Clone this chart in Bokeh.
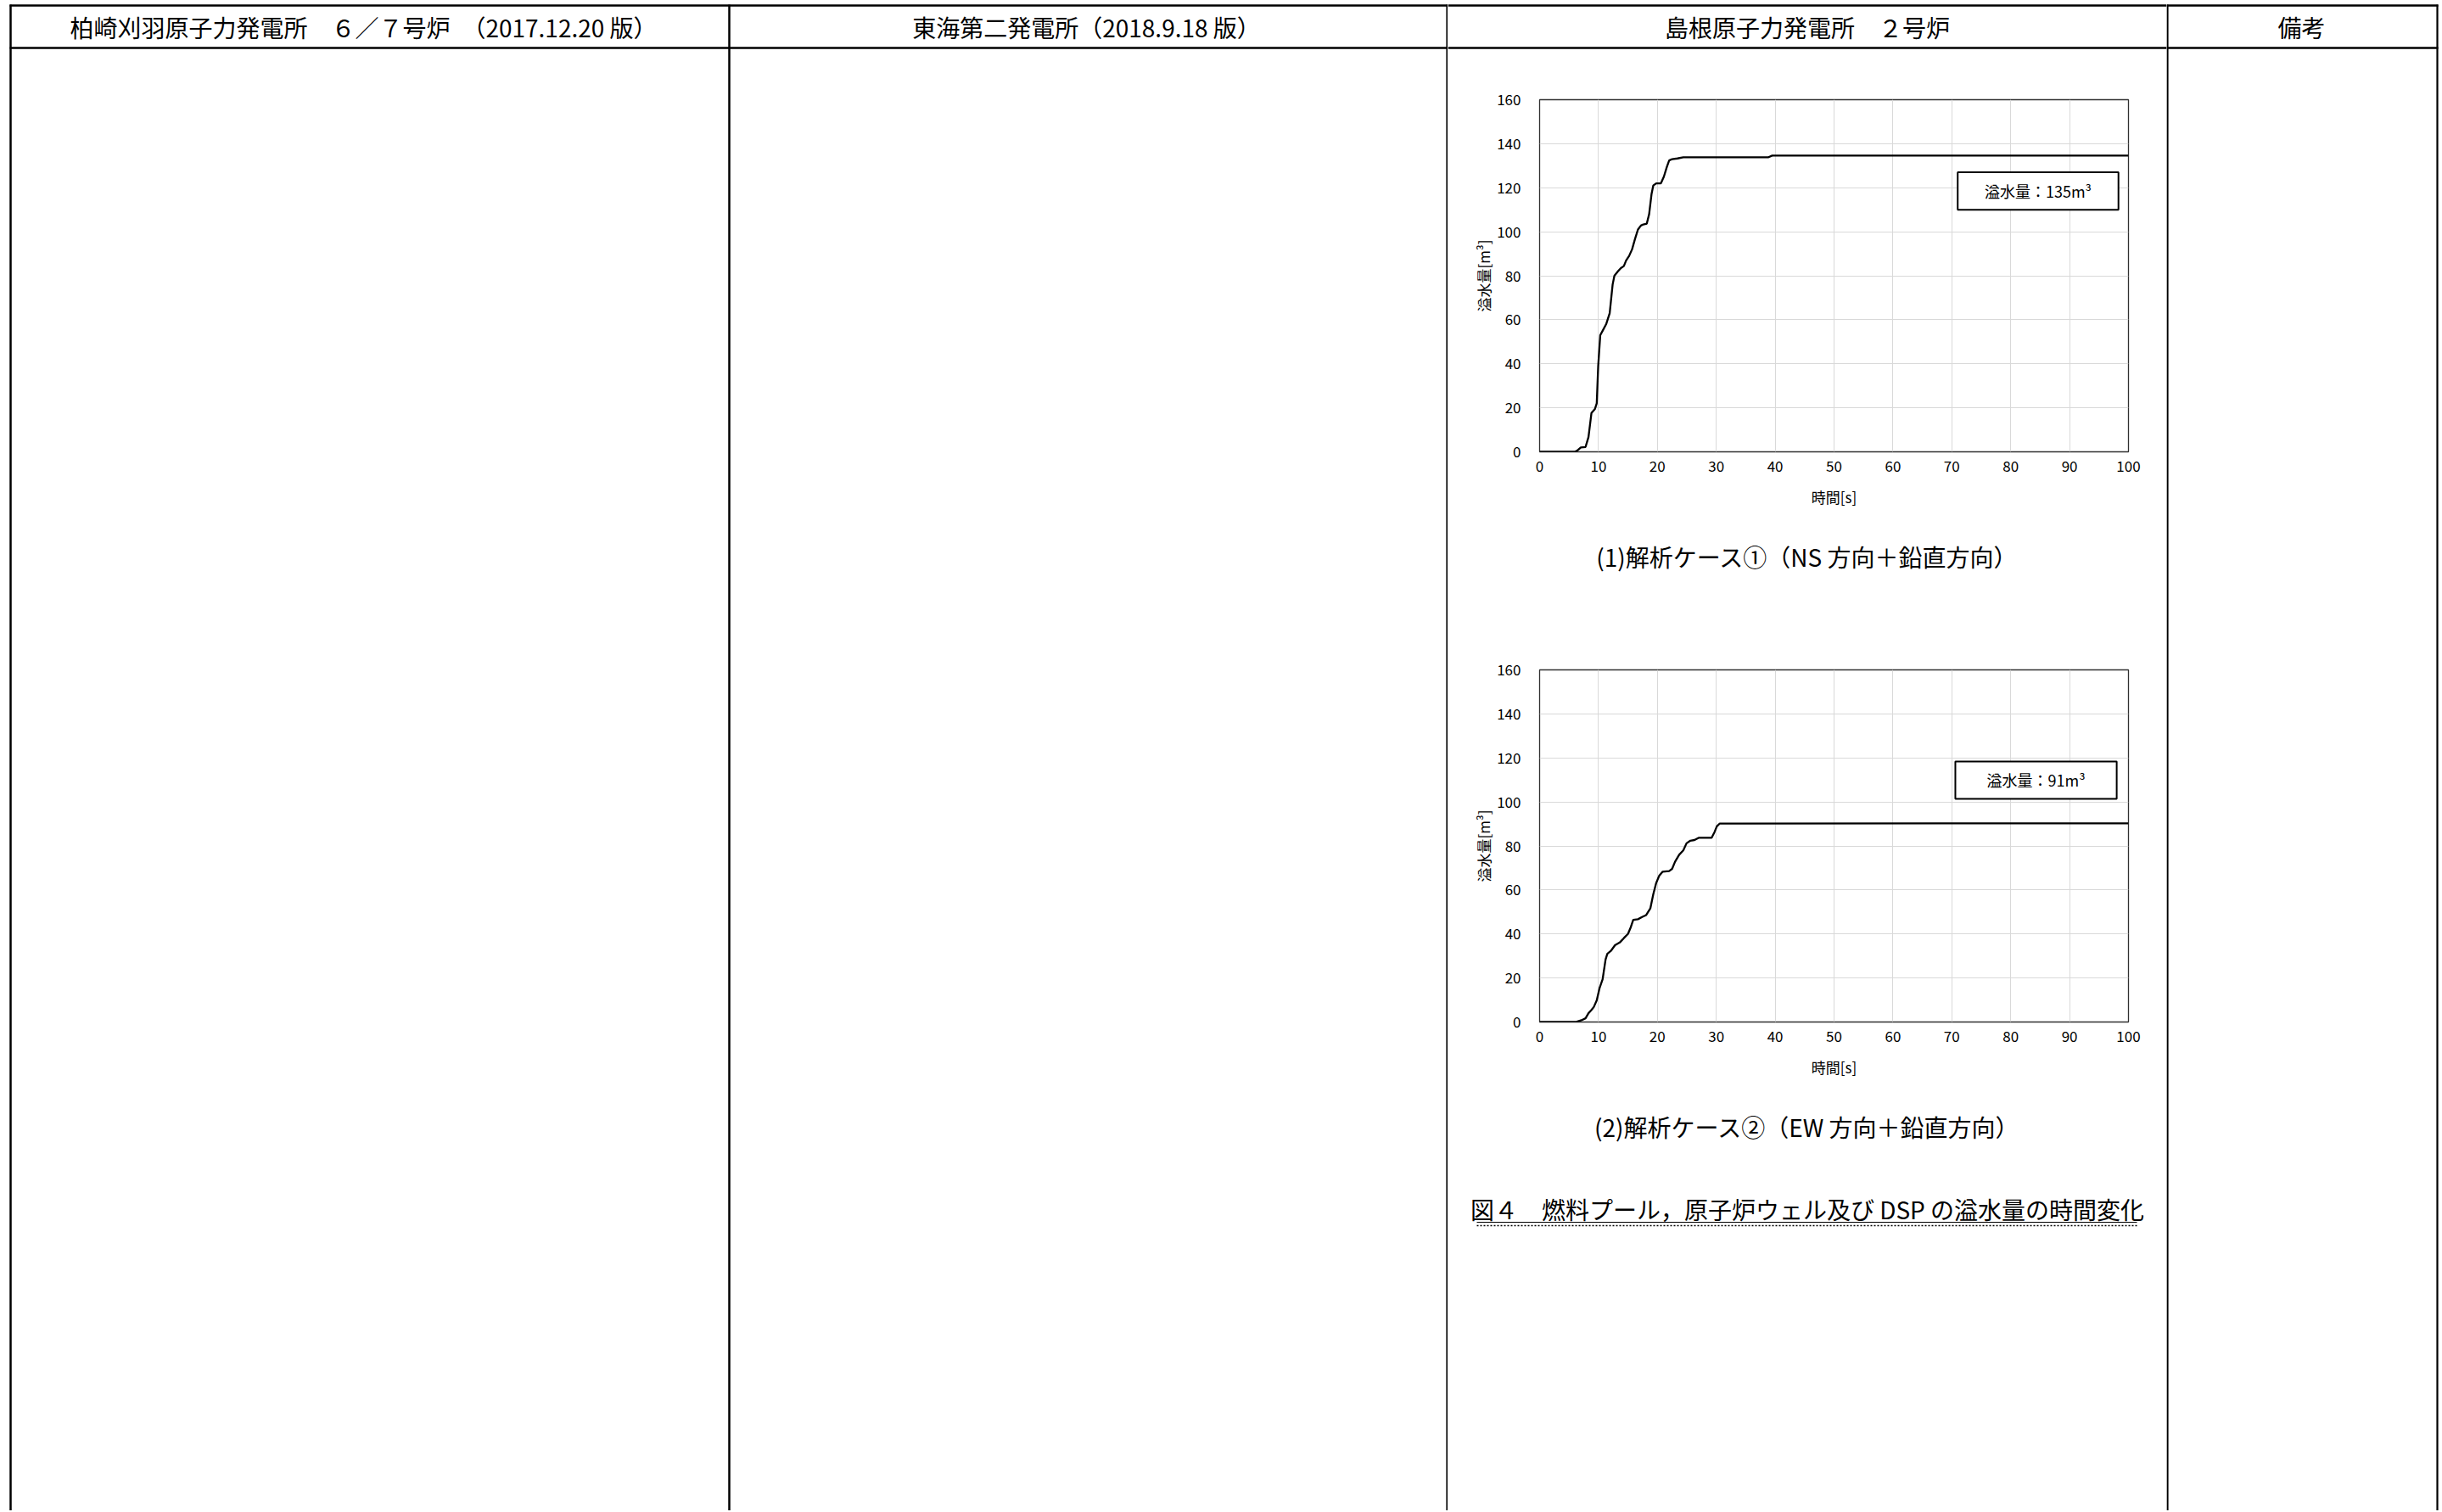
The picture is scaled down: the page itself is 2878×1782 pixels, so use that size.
from bokeh.plotting import figure
from bokeh.layouts import row, column
from bokeh.models import Range1d, FixedTicker, BoxAnnotation, Label
from bokeh.core.properties import value
from bokeh.embed import file_html
from bokeh.resources import INLINE

# ---------------- data ----------------
headers = ["柏崎刈羽原子力発電所　６／７号炉　（2017.12.20 版）",
           "東海第二発電所（2018.9.18 版）",
           "島根原子力発電所　２号炉",
           "備考"]

x_ticks = [0, 10, 20, 30, 40, 50, 60, 70, 80, 90, 100]
y_ticks = [0, 20, 40, 60, 80, 100, 120, 140, 160]
x_label = "時間[s]"
y_label = "溢水量[m³]"

# case 1 (NS + vertical)
t1 = [0, 6.0, 6.5, 7.0, 7.8, 8.3, 8.8, 9.4, 9.7, 9.95, 10.3, 10.7, 11.3, 11.9,
      12.4, 12.7, 13.3, 13.8, 14.3, 14.7, 15.2, 15.7, 16.2, 16.7, 17.2, 17.6,
      18.2, 18.6, 19.0, 19.3, 19.8, 20.6, 21.1, 21.6, 22.0, 22.5, 23.4, 24.4,
      38.8, 39.5, 100]
v1 = [0, 0, 0.8, 2.0, 2.2, 6.7, 17.6, 19.5, 22, 39, 53, 55, 58, 63,
      76, 80, 82, 83.5, 84.4, 87, 89, 92, 96.7, 101, 102.8, 103.3,
      103.7, 108, 117, 121, 122, 122, 125, 129.4, 132.4, 133, 133.3, 133.8,
      133.8, 134.6, 134.6]
note1 = "溢水量：135m³"
cap1 = "(1)解析ケース①（NS 方向＋鉛直方向）"

# case 2 (EW + vertical)
t2 = [0, 6.1, 7.1, 7.8, 8.3, 8.75, 9.2, 9.7, 10.2, 10.7, 11.2, 11.5, 12.1,
      12.8, 13.6, 14.3, 15.0, 15.5, 15.9, 16.7, 17.4, 18.1, 18.8, 19.3, 19.8,
      20.3, 20.9, 22.0, 22.5, 23.0, 23.7, 24.4, 24.95, 25.6, 26.3, 27.0, 28.2,
      29.2, 29.7, 30.1, 30.6, 34.5, 100]
v2 = [0, 0, 0.8, 1.7, 4, 5.3, 6.8, 9.8, 15.6, 19.4, 28.4, 31, 32.3,
      34.9, 36.1, 38.1, 40, 43.2, 46.4, 46.7, 47.7, 48.6, 51.6, 58, 63.2,
      66.4, 68.3, 68.6, 69.6, 72.8, 76, 78, 81.2, 82.4, 82.7, 83.7, 83.7,
      83.7, 86.3, 88.9, 90.2, 90.2, 90.3]
note2 = "溢水量：91m³"
cap2 = "(2)解析ケース②（EW 方向＋鉛直方向）"

fig_caption = "図４　燃料プール，原子炉ウェル及び DSP の溢水量の時間変化"

# ---------------- styling ----------------
FONT = "Noto Sans CJK JP"
TOP, BOTTOM = 0, 1780
RIGHT = 2876


def no_align(p):
    try:
        p.frame_align = False
    except Exception:
        pass


def blank(x0, x1, y0, y1):
    p = figure(width=x1 - x0, height=y1 - y0,
               x_range=Range1d(x0, x1), y_range=Range1d(y1, y0),
               toolbar_location=None, output_backend="svg",
               x_axis_location=None, y_axis_location=None,
               min_border=0, outline_line_color=None)
    p.grid.visible = False
    p.background_fill_color = "white"
    p.border_fill_color = "white"
    no_align(p)
    return p


def txt(p, x, y, s, size="28px"):
    p.text(x=[x], y=[y], text=[s], text_font=value(FONT),
           text_font_size=size, text_align="center",
           text_baseline="middle", text_color="black")


def hline(p, x0, x1, y, w=2.5):
    p.segment(x0=[x0], y0=[y], x1=[x1], y1=[y], line_color="black", line_width=w)


def vline(p, x, y0, y1, w=2.5):
    p.segment(x0=[x], y0=[y0], x1=[x], y1=[y1], line_color="black", line_width=w)


# left part (columns 1 and 2)
left = blank(0, 1706, TOP, BOTTOM)
hline(left, 11, 1706, 6)
hline(left, 11, 1706, 56)
vline(left, 12, 5, BOTTOM)
vline(left, 859, 5, BOTTOM)
vline(left, 1705, 5, BOTTOM, 2.2)
txt(left, 428, 31, headers[0])
txt(left, 1280, 31, headers[1])

# right part (column 4)
right = blank(2553, RIGHT, TOP, BOTTOM)
hline(right, 2553, 2873, 6)
hline(right, 2553, 2873, 56)
vline(right, 2554, 5, BOTTOM, 2.2)
vline(right, 2872, 5, BOTTOM, 2.2)
txt(right, 2712, 31, headers[3])

# middle column (column 3)
CX = 2129.5
mh = blank(1706, 2553, 0, 70)
hline(mh, 1706, 2553, 6)
hline(mh, 1706, 2553, 56)
txt(mh, CX, 31, headers[2])


def chart(t, v, note, box):
    p = figure(width=847, height=550, x_range=Range1d(0, 100), y_range=Range1d(0, 160),
               toolbar_location=None, output_backend="svg",
               min_border_left=108, min_border_right=45,
               min_border_top=47, min_border_bottom=88,
               outline_line_color="#303030", outline_line_width=1.3)
    no_align(p)
    p.background_fill_color = "white"
    p.border_fill_color = "white"
    p.xaxis.ticker = FixedTicker(ticks=x_ticks)
    p.yaxis.ticker = FixedTicker(ticks=y_ticks)
    p.xgrid.ticker = FixedTicker(ticks=x_ticks)
    p.ygrid.ticker = FixedTicker(ticks=y_ticks)
    p.grid.grid_line_color = "#d9d9d9"
    p.grid.grid_line_width = 1
    for ax in (p.xaxis, p.yaxis):
        ax.major_tick_out = 0
        ax.major_tick_in = 0
        ax.minor_tick_out = 0
        ax.minor_tick_in = 0
        ax.axis_line_color = None
        ax.major_label_text_font = FONT
        ax.major_label_text_font_size = "17px"
        ax.major_label_text_color = "black"
        ax.axis_label_text_font = FONT
        ax.axis_label_text_font_size = "17px"
        ax.axis_label_text_font_style = "normal"
        ax.axis_label_text_color = "black"
    p.xaxis.axis_label = x_label
    p.yaxis.axis_label = y_label
    p.xaxis.major_label_standoff = 10
    p.xaxis.axis_label_standoff = 14
    p.yaxis.major_label_standoff = 22
    p.yaxis.axis_label_standoff = 0
    p.line(t, v, line_color="black", line_width=2.3)
    l, r, b, tp = box
    p.add_layout(BoxAnnotation(left=l, right=r, bottom=b, top=tp,
                               fill_color="white", fill_alpha=1.0,
                               line_color="black", line_alpha=1.0, line_width=2))
    p.add_layout(Label(x=(l + r) / 2, y=(b + tp) / 2, text=note,
                       text_align="center", text_baseline="middle",
                       text_font=FONT, text_font_size="18px", text_color="black"))
    return p


c1 = chart(t1, v1, note1, (71.0, 98.3, 110.0, 127.0))
g1 = blank(1706, 2553, 620, 742)
txt(g1, CX, 655, cap1)
c2 = chart(t2, v2, note2, (70.6, 98.0, 101.4, 118.4))
g2 = blank(1706, 2553, 1292, BOTTOM)
txt(g2, CX, 1327, cap2)
txt(g2, CX, 1424, fig_caption)
g2.segment(x0=[1740], y0=[1440], x1=[2518], y1=[1440], line_color="black", line_width=1.2)
g2.segment(x0=[1740], y0=[1444], x1=[2518], y1=[1444], line_color="black",
           line_width=1.5, line_dash="2 2")

mid = column(mh, c1, g1, c2, g2, spacing=0)
page = row(left, mid, right, spacing=0)

open("out.html", "w").write(file_html(page, INLINE))
